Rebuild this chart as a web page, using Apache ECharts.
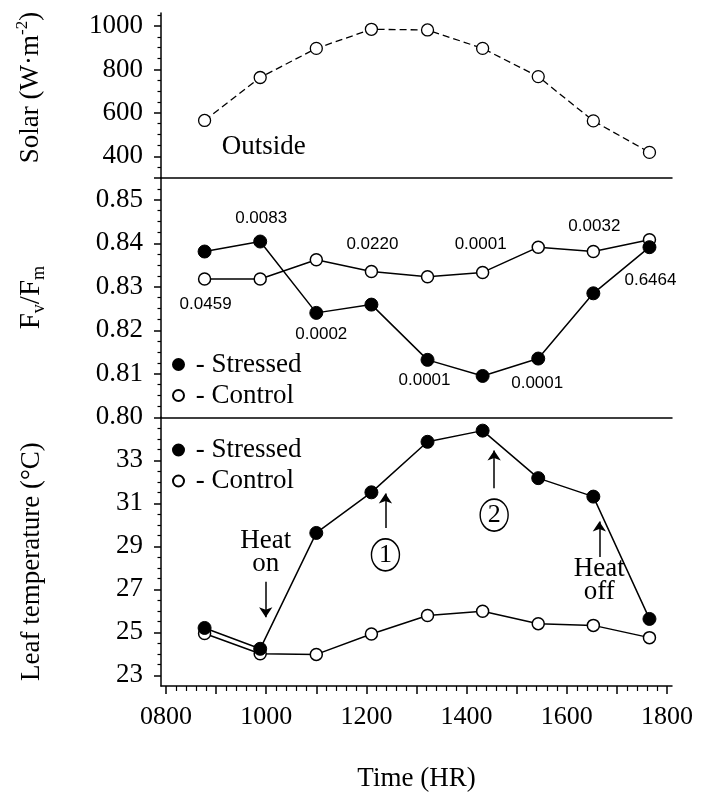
<!DOCTYPE html>
<html>
<head>
<meta charset="utf-8">
<title>Solar, Fv/Fm and leaf temperature</title>
<script src="https://cdn.jsdelivr.net/npm/echarts@6/dist/echarts.min.js"></script>
<style>
  html, body { margin: 0; padding: 0; background: #fff; }
  #chart { width: 705px; height: 793px; }
</style>
</head>
<body>
<div id="chart"></div>
<script>
// sampling times
const times = [877, 988, 1100, 1210, 1322, 1432, 1543, 1653, 1765];

const solar = [565, 763, 897, 985, 982, 897, 767, 563, 418];

const fvStressed = [0.8381, 0.8404, 0.8240, 0.8259, 0.8132, 0.8095, 0.8135, 0.8285, 0.8391];
const fvControl = [0.8318, 0.8318, 0.8362, 0.8335, 0.8323, 0.8333, 0.8391, 0.8381, 0.8408];
const pValues = ['0.0459', '0.0083', '0.0002', '0.0220', '0.0001', '0.0001', '0.0001', '0.0032', '0.6464'];

const tempStressed = [25.2, 24.23, 29.62, 31.51, 33.86, 34.38, 32.17, 31.31, 25.62];
const tempControl = [24.94, 24.0, 23.97, 24.92, 25.78, 25.98, 25.4, 25.32, 24.75];

// tick labels
const timeTicks = [800, 1000, 1200, 1400, 1600, 1800];
const solarTicks = [400, 600, 800, 1000];
const fvTicks = [0.80, 0.81, 0.82, 0.83, 0.84, 0.85];
const tempTicks = [23, 25, 27, 29, 31, 33];

// annotations in the temperature panel
const arrows = [
  { time: 999, from: 27.35, to: 25.7 },
  { time: 1238, from: 29.85, to: 31.45 },
  { time: 1455, from: 31.7, to: 33.45 },
  { time: 1665, from: 28.5, to: 30.15 }
];
const notes = [
  { time: 999, temp: 28.7, text: 'Heat\non' },
  { time: 1665, temp: 27.42, text: 'Heat\noff' }
];
const circled = [
  { time: 1238, temp: 28.6, text: '1' },
  { time: 1455, temp: 30.45, text: '2' }
];
const outsideNote = { time: 995, solar: 444, text: 'Outside' };

// where each p-value sits (which curve, above/below)
const pSpots = [
  { on: 'control', pos: 'bottom', dist: 10, dx: 1 },
  { on: 'stressed', pos: 'top', dist: 8, dx: 1 },
  { on: 'stressed', pos: 'bottom', dist: 6, dx: 5 },
  { on: 'control', pos: 'top', dist: 12, dx: 1 },
  { on: 'stressed', pos: 'bottom', dist: 5, dx: -3 },
  { on: 'control', pos: 'top', dist: 13, dx: -2 },
  { on: 'stressed', pos: 'bottom', dist: 9, dx: -1 },
  { on: 'control', pos: 'top', dist: 10, dx: 1 },
  { on: 'stressed', pos: 'bottom', dist: 18, dx: 1 }
];

const SERIF = "'Liberation Serif', 'Times New Roman', serif";
const SANS = "'Liberation Sans', Arial, sans-serif";
const BLACK = '#000';

function steps(from, to, step) {
  const out = [];
  const n = Math.round((to - from) / step);
  for (let i = 0; i <= n; i++) out.push(+(from + i * step).toFixed(4));
  return out;
}
const isOn = (v, list) => list.some(t => Math.abs(t - v) < 1e-6);

const xMajor = steps(800, 1800, 100);
const xMinor = steps(800, 1800, 20).filter(v => !isOn(v, xMajor));
const solarMajor = [300].concat(solarTicks);
const solarMinor = steps(350, 1050, 50).filter(v => !isOn(v, solarMajor));
const fvMinor = steps(0.8025, 0.8525, 0.0025).filter(v => !isOn(v, fvTicks));
const tempMinor = steps(23.5, 34.5, 0.5).filter(v => !isOn(v, tempTicks));

const grids = [
  { left: 161, width: 511, top: 13, height: 165 },
  { left: 161, width: 511, top: 178, height: 239.3 },
  { left: 161, width: 511, top: 417.3, height: 269.5 }
];

const axisLine = { show: true, lineStyle: { color: BLACK, width: 1.5 } };

function xPlain(gridIndex) {
  return {
    type: 'value', gridIndex, min: 790, max: 1810, position: 'bottom',
    axisLine, axisTick: { show: false }, axisLabel: { show: false }, splitLine: { show: false }
  };
}

function yMain(gridIndex, min, max, major, labels, fmt, name, namePad) {
  return {
    type: 'value', gridIndex, min, max, position: 'left',
    axisLine,
    axisTick: { show: true, length: 7, customValues: major, lineStyle: { color: BLACK, width: 1.5 } },
    axisLabel: {
      customValues: labels, formatter: fmt, margin: 18,
      fontFamily: SERIF, fontSize: 27, color: BLACK
    },
    splitLine: { show: false },
    name, nameLocation: 'middle', nameGap: 113, nameRotate: 90,
    nameTextStyle: {
      fontFamily: SERIF, fontSize: 27, color: BLACK, lineHeight: 32,
      padding: namePad, rich: richName
    }
  };
}

function yMinor(gridIndex, min, max, minor) {
  return {
    type: 'value', gridIndex, min, max, position: 'left', offset: 0,
    axisLine: { show: false },
    axisTick: { show: true, length: 3.5, customValues: minor, lineStyle: { color: BLACK, width: 1.2 } },
    axisLabel: { show: false }, splitLine: { show: false }
  };
}

const richName = {
  a: { fontFamily: SERIF, fontSize: 27, color: BLACK, lineHeight: 34 },
  big: { fontFamily: SERIF, fontSize: 29, color: BLACK, lineHeight: 34 },
  sup: { fontFamily: SERIF, fontSize: 17, color: BLACK, verticalAlign: 'top', lineHeight: 17 },
  sub: { fontFamily: SERIF, fontSize: 18, color: BLACK, verticalAlign: 'bottom', lineHeight: 18 }
};

const pairs = ys => times.map((t, i) => [t, ys[i]]);

function withP(ys, who) {
  return times.map((t, i) => {
    const spot = pSpots[i];
    if (spot.on !== who) return [t, ys[i]];
    return {
      value: [t, ys[i]],
      label: {
        show: true, formatter: pValues[i], position: spot.pos, distance: spot.dist,
        offset: [spot.dx, 0], fontFamily: SANS, fontSize: 17, color: BLACK
      }
    };
  });
}

const openItem = { color: '#fff', borderColor: BLACK, borderWidth: 1.5 };
const fillItem = { color: BLACK, borderColor: BLACK, borderWidth: 1 };
const solidLine = { color: BLACK, width: 1.5 };

const legendBase = {
  orient: 'vertical', left: 172, padding: 0, itemWidth: 11, itemHeight: 11, icon: 'circle',
  itemGap: 0, selectedMode: false, formatter: ' - {name}',
  textStyle: { fontFamily: SERIF, fontSize: 27, color: BLACK, lineHeight: 31 },
  data: ['Stressed', 'Control']
};

const noteLabel = { fontFamily: SERIF, fontSize: 27, color: BLACK, lineHeight: 23 };

const option = {
  animation: false,
  backgroundColor: '#fff',
  grid: grids,
  legend: [
    Object.assign({}, legendBase, { top: 349 }),
    Object.assign({}, legendBase, { top: 434.5, itemGap: 0 })
  ],
  xAxis: [
    xPlain(0),
    xPlain(1),
    {
      type: 'value', gridIndex: 2, min: 790, max: 1810, position: 'bottom',
      axisLine,
      axisTick: { show: true, length: 8, customValues: xMajor, lineStyle: { color: BLACK, width: 1.5 } },
      axisLabel: {
        customValues: timeTicks, margin: 18, fontFamily: SERIF, fontSize: 26, color: BLACK,
        formatter: v => String(v).padStart(4, '0')
      },
      splitLine: { show: false },
      name: 'Time (HR)', nameLocation: 'middle', nameGap: 79,
      nameTextStyle: { fontFamily: SERIF, fontSize: 27, color: BLACK }
    },
    {
      type: 'value', gridIndex: 2, min: 790, max: 1810, position: 'bottom', offset: 0,
      axisLine: { show: false },
      axisTick: { show: true, length: 5, customValues: xMinor, lineStyle: { color: BLACK, width: 1.2 } },
      axisLabel: { show: false }, splitLine: { show: false }
    }
  ],
  yAxis: [
    yMain(0, 300, 1060, solarMajor, solarTicks, v => String(v),
      '{a|Solar (W·m}{sup|-2}{a|)}', [0, 0, 0, 16]),
    yMinor(0, 300, 1060, solarMinor),
    yMain(1, 0.80, 0.855, fvTicks, fvTicks, v => v.toFixed(2),
      '{big|F}{sub|v}{big|/F}{sub|m}', [0, 0, 0, 0]),
    yMinor(1, 0.80, 0.855, fvMinor),
    yMain(2, 22.5, 35, tempTicks, tempTicks, v => String(v),
      'Leaf temperature (°C)', [0, 20, 0, 0]),
    yMinor(2, 22.5, 35, tempMinor)
  ],
  series: [
    {
      name: 'Solar', type: 'line', xAxisIndex: 0, yAxisIndex: 0,
      data: pairs(solar), symbol: 'circle', symbolSize: 12,
      itemStyle: { color: '#fff', borderColor: BLACK, borderWidth: 1.3 },
      lineStyle: { color: BLACK, width: 1.3, type: [7, 4] },
      markPoint: {
        silent: true, symbol: 'circle', symbolSize: 0,
        itemStyle: { color: 'transparent' },
        label: Object.assign({ show: true, position: 'inside' }, noteLabel),
        data: [{ coord: [outsideNote.time, outsideNote.solar], label: { formatter: outsideNote.text } }]
      }
    },
    {
      name: 'Control', type: 'line', xAxisIndex: 1, yAxisIndex: 2,
      data: withP(fvControl, 'control'), symbol: 'circle', symbolSize: 12,
      itemStyle: openItem, lineStyle: solidLine
    },
    {
      name: 'Stressed', type: 'line', xAxisIndex: 1, yAxisIndex: 2,
      data: withP(fvStressed, 'stressed'), symbol: 'circle', symbolSize: 13,
      itemStyle: fillItem, lineStyle: solidLine
    },
    {
      name: 'Control', type: 'line', xAxisIndex: 2, yAxisIndex: 4,
      data: pairs(tempControl), symbol: 'circle', symbolSize: 12,
      itemStyle: openItem, lineStyle: solidLine
    },
    {
      name: 'Stressed', type: 'line', xAxisIndex: 2, yAxisIndex: 4,
      data: pairs(tempStressed), symbol: 'circle', symbolSize: 13,
      itemStyle: fillItem, lineStyle: solidLine,
      markLine: {
        silent: true, symbol: ['none', 'arrow'], symbolSize: 10,
        label: { show: false },
        lineStyle: { color: BLACK, width: 1.5, type: 'solid' },
        emphasis: { disabled: true },
        data: arrows.map(a => [{ coord: [a.time, a.from] }, { coord: [a.time, a.to] }])
      },
      markPoint: {
        silent: true,
        data: notes.map(n => ({
          coord: [n.time, n.temp], symbol: 'circle', symbolSize: 0,
          itemStyle: { color: 'transparent' },
          label: Object.assign({ show: true, position: 'inside', formatter: n.text }, noteLabel)
        })).concat(circled.map(c => ({
          coord: [c.time, c.temp], symbol: 'circle', symbolSize: [28, 32],
          itemStyle: { color: '#fff', borderColor: BLACK, borderWidth: 1.5 },
          label: { show: true, position: 'inside', formatter: c.text, fontFamily: SERIF, fontSize: 26, color: BLACK }
        })))
      }
    }
  ]
};

const chart = echarts.init(document.getElementById('chart'), null, { renderer: 'canvas' });
chart.setOption(option);
window.addEventListener('resize', () => chart.resize());
</script>
</body>
</html>
